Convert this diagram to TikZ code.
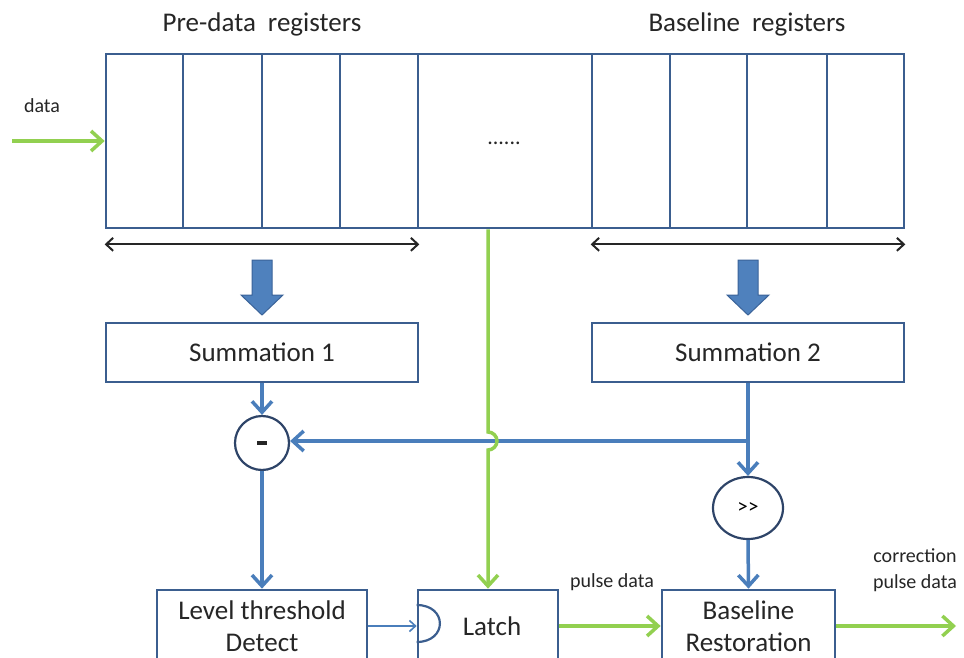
\documentclass[tikz,border=0pt]{standalone}
\usepackage{fontspec}
\setmainfont{Carlito}
\usetikzlibrary{arrows.meta,shapes.geometric}
\definecolor{boxblue}{HTML}{3B5E8F}
\definecolor{lineblue}{HTML}{4A7EBB}
\definecolor{lgreen}{HTML}{92D050}
\definecolor{navy}{HTML}{2E4468}
\definecolor{fillblue}{HTML}{4F81BD}
\definecolor{edgeblue}{HTML}{3A6399}
\tikzset{
  regcell/.style={draw=boxblue, line width=2.7pt, minimum height=174, inner sep=0pt},
  blockbox/.style={draw=boxblue, line width=2.7pt, fill=white, inner sep=0pt, align=center,
     font=\fontsize{27}{32}\selectfont, text=black!85},
  opnode/.style={draw=navy, line width=2.2pt, fill=white, inner sep=0pt},
  bigtext/.style={font=\fontsize{27}{32}\selectfont, text=black!85},
  smalltext/.style={font=\fontsize{20}{26}\selectfont, text=black!85, align=center},
  bluearrow/.style={draw=lineblue, line width=3.5pt, -{Straight Barb[length=11pt,width=20pt]}},
  thinarrow/.style={draw=lineblue, line width=1.6pt, -{Straight Barb[length=6pt,width=11pt]}},
  greenarrow/.style={draw=lgreen, line width=3.5pt, -{Straight Barb[length=11pt,width=20pt]}},
  dblarrow/.style={draw=black!85, line width=2pt, {Straight Barb[length=7pt,width=13pt]}-{Straight Barb[length=7pt,width=13pt]}},
  blockarrow/.pic={\filldraw[fill=fillblue, draw=edgeblue, line width=1pt]
     (-10,0) -- (-10,35) -- (-21,35) -- (0,55) -- (21,35) -- (10,35) -- (10,0) -- cycle;}
}
\begin{document}
\begin{tikzpicture}[x=1pt, y=-1pt]
\path[use as bounding box, clip] (0,0) rectangle (964,658);
\fill[white] (0,0) rectangle (964,658);

% titles
\node[bigtext] (pretitle) at (262,24) {Pre-data\hspace{12pt}registers};
\node[bigtext] (basetitle) at (747,24) {Baseline\hspace{12pt}registers};

% register cells
\node[regcell, minimum width=77] (c1) at (144.5,141) {};
\node[regcell, minimum width=79] (c2) at (222.5,141) {};
\node[regcell, minimum width=78] (c3) at (301,141) {};
\node[regcell, minimum width=78] (c4) at (379,141) {};
\node[regcell, minimum width=174] (mid) at (505,141) {};
\node[regcell, minimum width=78] (b1) at (631,141) {};
\node[regcell, minimum width=77] (b2) at (708.5,141) {};
\node[regcell, minimum width=80] (b3) at (787,141) {};
\node[regcell, minimum width=77] (b4) at (865.5,141) {};
\node[smalltext, font=\fontsize{22}{26}\selectfont] (dots) at (504,143) {......};

% data input
\node[smalltext] (datalbl) at (42,106) {data};
\coordinate (datain) at (12,141);
\draw[greenarrow] (datain) -- (c1.west);

% range arrows
\draw[dblarrow] ([yshift=-15pt]c1.south west) -- ([yshift=-15pt]c4.south east);
\draw[dblarrow] ([yshift=-15pt]b1.south west) -- ([yshift=-15pt]b4.south east);

% block arrows
\pic at (262,260) {blockarrow};
\pic at (748,260) {blockarrow};

% summation boxes
\node[blockbox, minimum width=312, minimum height=59] (sum1) at (262,352.5) {Summation 1};
\node[blockbox, minimum width=312, minimum height=59] (sum2) at (748,352.5) {Summation 2};

% operators
\node[opnode, circle, minimum size=54] (minus) at (262,443) {\color{black!85}\rule[0pt]{10pt}{3.2pt}};
\node[opnode, ellipse, minimum width=70, minimum height=62] (shift) at (748,508) {\fontsize{21}{24}\selectfont {>}\kern0.5pt{>}};

% bottom boxes
\node[blockbox, minimum width=210, minimum height=72] (ltd) at (262,626) {Level threshold\\Detect};
\node[blockbox, minimum width=140, minimum height=72] (latch) at (488,626) {\hspace{8pt}Latch};
\node[blockbox, minimum width=173, minimum height=72] (br) at (748.5,626) {Baseline\\Restoration};

% blue connectors
\draw[bluearrow] (sum1.south) -- (minus.north);
\draw[bluearrow] (minus.south) -- (ltd.north);
\coordinate (junc) at (sum2.south |- 0,441);
\draw[bluearrow] (sum2.south) -- (shift.north);
\draw[bluearrow] (junc) -- (minus.east |- junc);
\draw[bluearrow] (shift.south) -- (br.north);

% green line from register to latch with jump
\coordinate (gtop) at (latch.north |- mid.south);
\coordinate (jumpA) at (latch.north |- 0,432);
\draw[greenarrow] (gtop) -- (jumpA) arc[start angle=-90, end angle=90, radius=9] -- (latch.north);

% threshold to latch
\draw[thinarrow] (ltd.east) -- (latch.west);
\draw[draw=boxblue, line width=2.2pt] ([yshift=21pt]latch.west) .. controls +(31,0) and +(31,0) .. ([yshift=-16pt]latch.west);

% pulse data
\draw[greenarrow] (latch.east) -- (br.west);
\node[smalltext] (pulselbl) at (612,582) {pulse data};
\coordinate (outend) at (956,626);
\draw[greenarrow] (br.east) -- (outend);
\node[smalltext] (corrlbl) at (915,570) {correction\\pulse data};
\end{tikzpicture}
\end{document}
